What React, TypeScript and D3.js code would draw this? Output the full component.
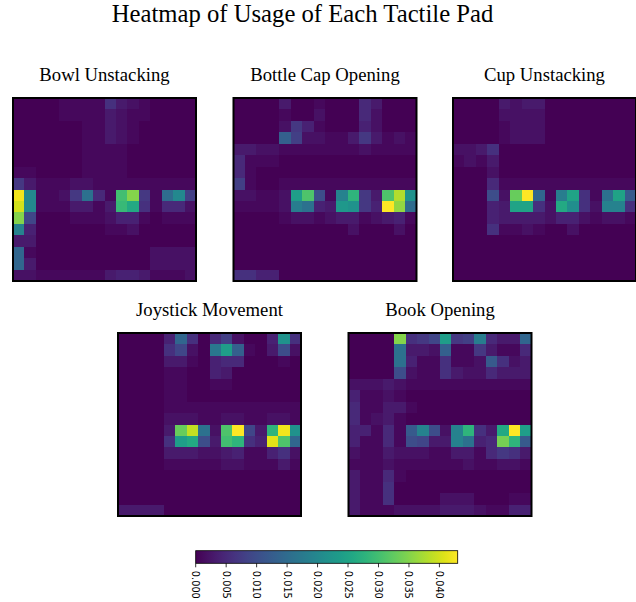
import React from "react";
import * as d3 from "d3";

// values in thousandths (x 0.001)
const bowlUnstacking: number[][] = [
  [0,0,0,0,1,1,1,1,6,3,2,1,0,0,0,0],
  [0,0,0,0,1,1,1,1,3,2,1,1,0,0,0,0],
  [0,0,0,0,0,0,1,1,3,2,1,0,0,0,0,0],
  [0,0,0,0,0,0,1,1,3,2,1,0,0,0,0,0],
  [0,0,0,0,0,0,1,1,1,1,0,0,0,0,0,0],
  [0,0,0,0,0,0,1,1,1,1,0,0,0,0,0,0],
  [1,1,0,0,0,0,1,1,1,1,0,0,0,0,0,0],
  [7,3,1,1,1,2,2,1,1,1,1,1,1,1,1,1],
  [42,20,1,1,2,7,16,5,1,30,35,7,1,15,20,8],
  [40,20,1,1,1,3,3,1,3,29,26,6,1,5,5,2],
  [35,9,0,0,0,1,1,1,2,4,4,1,0,1,1,1],
  [19,4,0,0,0,0,0,0,1,1,2,0,0,0,0,0],
  [3,3,0,0,0,0,0,0,0,0,0,0,0,0,0,0],
  [14,1,0,0,0,0,0,0,0,0,0,0,2,2,2,2],
  [14,3,0,0,0,0,0,0,0,0,0,0,2,2,2,2],
  [2,2,1,1,1,1,1,1,3,4,4,3,1,1,1,2],
];

const bottleCapOpening: number[][] = [
  [0,0,0,0,3,0,0,1,0,0,0,5,3,0,0,0],
  [0,0,0,0,1,0,0,2,0,0,0,5,2,0,0,0],
  [0,0,0,0,2,7,4,1,0,0,0,4,2,0,0,0],
  [0,0,0,0,13,8,2,2,1,1,3,7,3,1,2,1],
  [3,3,2,2,1,1,1,1,1,1,1,2,1,1,1,1],
  [5,1,1,1,0,0,0,0,0,0,0,0,0,0,0,0],
  [5,1,0,0,0,0,0,0,0,0,0,0,0,0,0,0],
  [8,1,0,0,1,1,1,1,1,1,1,1,1,1,1,1],
  [2,2,1,1,2,24,31,10,1,19,28,7,3,31,38,22],
  [1,1,1,1,2,18,16,4,3,23,22,7,4,43,36,15],
  [0,0,0,0,1,2,2,1,2,3,3,1,2,3,4,1],
  [0,0,0,0,0,0,0,0,0,0,2,0,0,0,2,0],
  [0,0,0,0,0,0,0,0,0,0,0,0,0,0,0,0],
  [0,0,0,0,0,0,0,0,0,0,0,0,0,0,0,0],
  [0,0,0,0,0,0,0,0,0,0,0,0,0,0,0,0],
  [6,6,4,4,0,0,0,0,0,0,0,0,0,0,0,0],
];

const cupUnstacking: number[][] = [
  [0,0,0,0,3,2,3,3,0,0,0,0,0,0,0,0],
  [0,0,0,0,2,2,2,2,0,0,0,0,0,0,0,0],
  [0,0,0,0,1,2,2,2,0,0,0,0,0,0,0,0],
  [0,0,0,0,1,2,2,2,0,0,0,0,0,0,0,0],
  [2,2,3,6,0,0,0,0,0,0,0,0,0,0,0,0],
  [1,2,1,3,0,0,0,0,0,0,0,0,0,0,0,0],
  [0,0,0,2,0,0,0,0,0,0,0,0,0,0,0,0],
  [0,0,0,5,1,1,1,1,1,1,1,1,1,1,1,1],
  [0,0,0,10,2,33,43,14,1,18,25,6,1,16,25,12],
  [0,0,0,4,3,25,25,6,2,26,21,6,2,19,19,6],
  [0,0,0,4,3,3,3,3,2,4,4,2,1,2,2,1],
  [0,0,0,6,1,1,2,1,0,0,2,0,0,0,0,0],
  [0,0,0,0,0,0,0,0,0,0,0,0,0,0,0,0],
  [0,0,0,0,0,0,0,0,0,0,0,0,0,0,0,0],
  [0,0,0,0,0,0,0,0,0,0,0,0,0,0,0,0],
  [0,0,0,0,0,0,0,0,0,0,0,0,0,0,0,0],
];

const joystickMovement: number[][] = [
  [0,0,0,0,4,14,6,0,5,8,2,0,0,4,22,6],
  [0,0,0,0,6,9,2,0,17,24,13,1,0,3,10,2],
  [0,0,0,0,3,3,1,0,4,5,5,0,0,0,1,0],
  [0,0,0,0,1,1,0,0,4,3,0,0,0,0,0,0],
  [0,0,0,0,1,1,0,0,1,1,0,0,0,0,0,0],
  [0,0,0,0,1,1,0,0,0,0,0,0,0,0,0,0],
  [0,0,0,0,1,1,1,1,1,1,1,1,1,1,1,1],
  [0,0,0,0,2,2,2,1,1,2,2,1,1,2,2,1],
  [0,0,0,0,3,33,39,16,2,31,43,9,3,28,42,22],
  [0,0,0,0,6,24,26,10,3,30,28,6,4,41,31,14],
  [0,0,0,0,3,3,3,2,2,3,4,1,1,4,6,2],
  [0,0,0,0,1,1,1,1,1,2,2,1,1,1,3,1],
  [0,0,0,0,0,0,0,0,0,0,0,0,0,0,0,0],
  [0,0,0,0,0,0,0,0,0,0,0,0,0,0,0,0],
  [0,0,0,0,0,0,0,0,0,0,0,0,0,0,0,0],
  [3,3,3,3,0,0,0,0,0,0,0,0,0,0,0,0],
];

const bookOpening: number[][] = [
  [0,0,0,0,35,6,7,9,24,7,8,18,5,3,3,14],
  [0,0,0,0,16,3,3,2,13,1,1,7,3,1,1,5],
  [0,0,0,0,16,4,1,1,6,1,1,2,12,6,2,3],
  [0,0,0,0,10,2,1,1,6,3,2,2,5,3,3,3],
  [2,2,2,3,2,1,1,1,1,1,1,1,1,1,1,1],
  [4,1,1,2,1,0,0,0,0,0,0,0,0,0,0,0],
  [5,1,1,3,3,1,0,0,0,0,0,0,0,0,0,0],
  [5,1,2,3,1,0,0,0,0,0,0,0,0,0,0,0],
  [4,4,1,5,1,12,19,10,2,19,28,6,3,26,43,24],
  [4,1,1,5,1,10,9,3,3,19,16,4,5,34,28,12],
  [2,1,1,3,2,2,2,1,1,3,3,1,5,7,6,3],
  [1,1,1,2,1,1,1,1,1,1,2,1,1,2,2,1],
  [3,1,1,5,1,0,0,0,0,0,0,0,0,0,0,0],
  [3,1,1,6,0,0,0,0,0,0,0,0,0,0,0,0],
  [3,1,1,6,0,0,0,0,2,2,2,0,0,0,1,1],
  [3,1,1,1,2,2,2,2,3,3,3,2,1,1,4,4],
];

const panelTitles = ["Bowl Unstacking", "Bottle Cap Opening", "Cup Unstacking", "Joystick Movement", "Book Opening"];
const panelData = [bowlUnstacking, bottleCapOpening, cupUnstacking, joystickMovement, bookOpening];
const colorbarTicks = [0, 0.005, 0.01, 0.015, 0.02, 0.025, 0.03, 0.035, 0.04];
const vmax = 0.043;
const unit = 0.001;

const W = 636, H = 602;
const panelSize = 183;
const panelPos: [number, number][] = [
  [13, 98], [233.5, 98], [453, 98], [118, 333], [348.5, 333],
];
const serif = "'Liberation Serif', 'Times New Roman', serif";

export default function App() {
  const color = d3.scaleSequential(d3.interpolateViridis).domain([0, vmax]);
  const idx = d3.range(16);
  const cb = { x0: 195.7, x1: 457.7, y0: 550.7, y1: 563.3 };
  const cbScale = d3.scaleLinear().domain([0, vmax]).range([cb.x0, cb.x1]);
  const stops = d3.range(0, 1.0001, 0.05);
  return (
    <svg width={W} height={H} style={{ position: "absolute", left: 0, top: 0, background: "#fff" }}>
      <defs>
        <linearGradient id="cbgrad" x1="0" x2="1" y1="0" y2="0">
          {stops.map((t) => (
            <stop key={t} offset={t} stopColor={d3.interpolateViridis(t)} />
          ))}
        </linearGradient>
      </defs>
      <text x={302.5} y={22} textAnchor="middle" fontFamily={serif} fontSize={24.7} fill="#000">
        Heatmap of Usage of Each Tactile Pad
      </text>
      {panelData.map((grid, p) => {
        const [px, py] = panelPos[p];
        const x = d3.scaleBand<number>().domain(idx).range([px, px + panelSize]);
        const y = d3.scaleBand<number>().domain(idx).range([py, py + panelSize]);
        return (
          <g key={p}>
            <text x={px + panelSize / 2} y={py - 17.5} textAnchor="middle" fontFamily={serif} fontSize={18.7} fill="#000">
              {panelTitles[p]}
            </text>
            <g shapeRendering="crispEdges">
              {grid.map((row, r) =>
                row.map((v, c) => (
                  <rect key={r + "-" + c} x={x(c)} y={y(r)}
                    width={c === 15 ? x.bandwidth() : x.bandwidth() + 1}
                    height={r === 15 ? y.bandwidth() : y.bandwidth() + 1}
                    fill={color(v * unit)} />
                ))
              )}
            </g>
            <rect x={px} y={py} width={panelSize} height={panelSize} fill="none" stroke="#000" strokeWidth={2} />
          </g>
        );
      })}
      <rect x={cb.x0} y={cb.y0} width={cb.x1 - cb.x0} height={cb.y1 - cb.y0} fill="url(#cbgrad)" stroke="#000" strokeWidth={0.8} />
      {colorbarTicks.map((t) => (
        <g key={t}>
          <line x1={cbScale(t)} x2={cbScale(t)} y1={cb.y1} y2={cb.y1 + 4} stroke="#000" strokeWidth={0.8} />
          <text transform={`translate(${cbScale(t)},${cb.y1 + 7.5}) rotate(90)`} dominantBaseline="central"
            fontFamily="'DejaVu Sans', sans-serif" fontSize={9.8} fill="#000">
            {t.toFixed(3)}
          </text>
        </g>
      ))}
    </svg>
  );
}
